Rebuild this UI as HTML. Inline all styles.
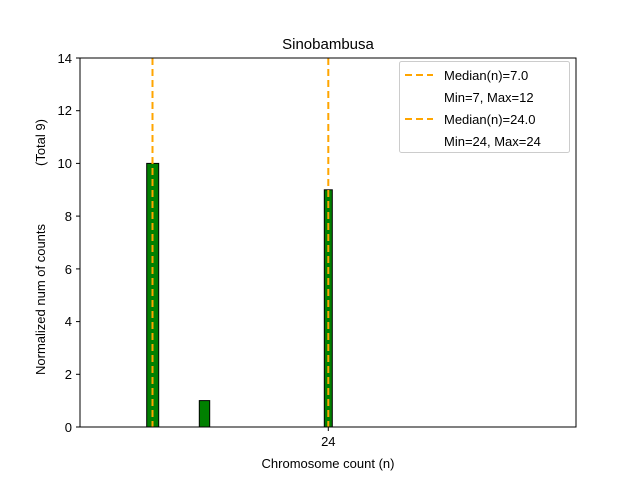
<!DOCTYPE html>
<html><head><style>body{margin:0;background:#fff}</style></head><body>
<svg width="640" height="480" xmlns="http://www.w3.org/2000/svg" font-family="Liberation Sans, DejaVu Sans, sans-serif">
<rect width="640" height="480" fill="#fff"/>
<line x1="80" y1="427" x2="240" y2="427" stroke="#555" stroke-width="1"/>
<rect x="146.7" y="163.4" width="12" height="263.6" fill="green" stroke="#000" stroke-width="1"/>
<rect x="199.3" y="400.6" width="10.4" height="26.4" fill="green" stroke="#000" stroke-width="1"/>
<rect x="324.3" y="189.8" width="8" height="237.2" fill="green" stroke="#000" stroke-width="1"/>
<line x1="152.5" y1="58" x2="152.5" y2="427" stroke="orange" stroke-width="2" stroke-dasharray="7,4"/>
<line x1="328.3" y1="58" x2="328.3" y2="427" stroke="orange" stroke-width="2" stroke-dasharray="7,4"/>
<rect x="80" y="58" width="496" height="369" fill="none" stroke="#000" stroke-width="1"/>
<g font-size="13" text-anchor="end">
<line x1="76" y1="427" x2="80" y2="427" stroke="#000"/><text x="72" y="432">0</text>
<line x1="76" y1="374.3" x2="80" y2="374.3" stroke="#000"/><text x="72" y="379">2</text>
<line x1="76" y1="321.6" x2="80" y2="321.6" stroke="#000"/><text x="72" y="326">4</text>
<line x1="76" y1="268.9" x2="80" y2="268.9" stroke="#000"/><text x="72" y="274">6</text>
<line x1="76" y1="216.1" x2="80" y2="216.1" stroke="#000"/><text x="72" y="221">8</text>
<line x1="76" y1="163.4" x2="80" y2="163.4" stroke="#000"/><text x="72" y="168">10</text>
<line x1="76" y1="110.7" x2="80" y2="110.7" stroke="#000"/><text x="72" y="115">12</text>
<line x1="76" y1="58" x2="80" y2="58" stroke="#000"/><text x="72" y="63">14</text>
</g>
<line x1="328.3" y1="427" x2="328.3" y2="431" stroke="#000"/>
<text x="328.3" y="446" font-size="13" text-anchor="middle">24</text>
<text x="328" y="468" font-size="13" text-anchor="middle">Chromosome count (n)</text>
<text x="328" y="49" font-size="15" text-anchor="middle">Sinobambusa</text>
<text transform="translate(45,375) rotate(-90)" font-size="13">Normalized num of counts</text>
<text transform="translate(45,166) rotate(-90)" font-size="13">(Total 9)</text>
<rect x="399.5" y="61.5" width="170" height="91" fill="#fff" stroke="#ccc" rx="2"/>
<g font-size="13">
<line x1="405" y1="75" x2="433" y2="75" stroke="orange" stroke-width="2" stroke-dasharray="7,4"/>
<text x="444" y="80">Median(n)=7.0</text>
<text x="444" y="102">Min=7, Max=12</text>
<line x1="405" y1="119" x2="433" y2="119" stroke="orange" stroke-width="2" stroke-dasharray="7,4"/>
<text x="444" y="124">Median(n)=24.0</text>
<text x="444" y="146">Min=24, Max=24</text>
</g>
</svg>
</body></html>
